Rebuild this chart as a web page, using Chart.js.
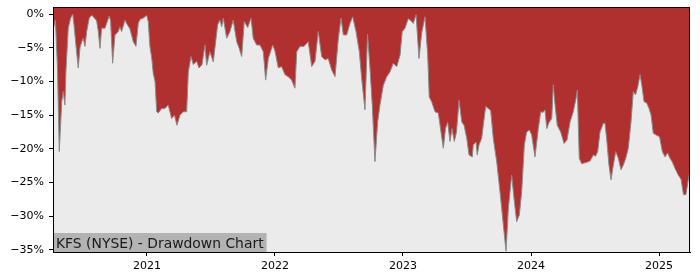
<!DOCTYPE html>
<html>
<head>
<meta charset="utf-8">
<script src="https://cdn.jsdelivr.net/npm/chart.js@4/dist/chart.umd.min.js"></script>
<style>
  html, body { margin: 0; padding: 0; background: #ffffff; }
  #wrap { width: 700px; height: 280px; position: relative; }
</style>
</head>
<body>
<div id="wrap"><canvas id="c" width="700" height="280"></canvas></div>
<script>
// Dates as fractional years
const dates = [
  2020.270, 2020.285, 2020.301, 2020.315, 2020.334, 2020.346, 2020.359, 2020.367, 2020.385, 2020.404,
  2020.420, 2020.430, 2020.445, 2020.463, 2020.477, 2020.490, 2020.502, 2020.516, 2020.529, 2020.549,
  2020.568, 2020.586, 2020.607, 2020.620, 2020.633, 2020.646, 2020.672, 2020.685, 2020.705, 2020.716,
  2020.732, 2020.750, 2020.776, 2020.789, 2020.802, 2020.828, 2020.841, 2020.867, 2020.893, 2020.914,
  2020.932, 2020.945, 2020.971, 2020.998, 2021.010, 2021.023, 2021.037, 2021.049, 2021.063, 2021.076,
  2021.088, 2021.115, 2021.141, 2021.166, 2021.193, 2021.215, 2021.234, 2021.258, 2021.284, 2021.310,
  2021.323, 2021.344, 2021.362, 2021.388, 2021.406, 2021.430, 2021.453, 2021.466, 2021.492, 2021.518,
  2021.531, 2021.552, 2021.570, 2021.584, 2021.596, 2021.623, 2021.648, 2021.674, 2021.701, 2021.719,
  2021.740, 2021.760, 2021.787, 2021.813, 2021.830, 2021.857, 2021.883, 2021.909, 2021.927, 2021.948,
  2021.982, 2022.000, 2022.026, 2022.052, 2022.078, 2022.104, 2022.130, 2022.156, 2022.170, 2022.195,
  2022.227, 2022.260, 2022.287, 2022.313, 2022.338, 2022.365, 2022.391, 2022.416, 2022.443, 2022.469,
  2022.495, 2022.516, 2022.534, 2022.560, 2022.586, 2022.607, 2022.633, 2022.659, 2022.677, 2022.703,
  2022.723, 2022.742, 2022.760, 2022.781, 2022.802, 2022.820, 2022.846, 2022.873, 2022.898, 2022.924,
  2022.951, 2022.977, 2022.994, 2023.016, 2023.041, 2023.063, 2023.080, 2023.102, 2023.125, 2023.146,
  2023.172, 2023.193, 2023.205, 2023.224, 2023.250, 2023.276, 2023.297, 2023.315, 2023.332, 2023.349,
  2023.367, 2023.383, 2023.401, 2023.418, 2023.438, 2023.459, 2023.477, 2023.498, 2023.516, 2023.541,
  2023.549, 2023.570, 2023.580, 2023.594, 2023.615, 2023.627, 2023.646, 2023.666, 2023.685, 2023.705,
  2023.732, 2023.758, 2023.784, 2023.805, 2023.823, 2023.849, 2023.867, 2023.888, 2023.909, 2023.927,
  2023.948, 2023.966, 2023.987, 2024.005, 2024.031, 2024.057, 2024.076, 2024.094, 2024.109, 2024.123,
  2024.143, 2024.162, 2024.174, 2024.188, 2024.205, 2024.232, 2024.258, 2024.281, 2024.305, 2024.330,
  2024.352, 2024.362, 2024.377, 2024.396, 2024.435, 2024.461, 2024.487, 2024.504, 2024.521, 2024.539,
  2024.565, 2024.578, 2024.591, 2024.609, 2024.625, 2024.643, 2024.662, 2024.682, 2024.703, 2024.721,
  2024.740, 2024.760, 2024.781, 2024.799, 2024.816, 2024.834, 2024.852, 2024.865, 2024.883, 2024.904,
  2024.922, 2024.938, 2024.955, 2024.982, 2025.004, 2025.026, 2025.047, 2025.066, 2025.086, 2025.105,
  2025.125, 2025.151, 2025.172, 2025.191, 2025.210, 2025.226, 2025.240
];
// Drawdown in percent
const drawdown = [
  -2.1, -0.9, -8.0, -20.4, -13.0, -11.5, -13.5, -8.5, -2.1, -0.6,
  0.0, -1.6, -4.6, -8.0, -5.0, -4.1, -3.6, -4.8, -2.6, -0.6,
  -0.2, -0.5, -1.0, -2.6, -5.1, -2.1, -2.1, -1.4, -0.3, -1.0,
  -7.3, -3.1, -2.6, -1.9, -2.6, -0.9, -1.4, -2.2, -4.1, -4.8,
  -1.4, -0.8, -0.6, -0.2, -1.1, -4.8, -6.5, -8.8, -10.0, -14.5,
  -14.7, -14.0, -14.0, -13.5, -15.5, -15.0, -16.5, -15.0, -14.5, -14.5,
  -8.6, -6.3, -7.5, -7.0, -8.0, -7.5, -4.6, -7.6, -5.6, -7.1,
  -5.0, -1.6, -0.9, -1.9, -0.6, -3.6, -2.6, -0.9, -4.1, -5.0,
  -6.3, -1.1, -2.0, -0.6, -3.6, -4.6, -4.6, -5.6, -9.8, -6.6,
  -4.6, -5.5, -8.0, -7.8, -9.0, -9.3, -9.8, -11.0, -5.6, -4.8,
  -4.8, -4.1, -7.8, -7.0, -2.6, -6.3, -6.8, -6.6, -8.3, -9.3,
  -3.6, -0.6, -3.1, -3.1, -1.4, -0.4, -2.6, -5.6, -9.5, -14.2,
  -3.0, -8.0, -13.5, -21.9, -16.0, -13.5, -10.6, -9.3, -8.6, -7.3,
  -7.8, -6.1, -2.6, -2.1, -0.7, -1.0, -1.4, -0.1, -6.6, -2.8,
  -0.4, -6.1, -12.3, -13.0, -14.5, -14.7, -17.5, -19.9, -17.0, -16.0,
  -18.9, -17.0, -18.9, -17.5, -12.8, -16.0, -16.5, -18.4, -20.9, -21.2,
  -19.4, -19.0, -20.9, -19.4, -18.4, -16.5, -13.7, -14.0, -14.3, -18.4,
  -21.9, -26.4, -31.3, -35.2, -28.8, -23.9, -27.3, -30.8, -29.8, -26.4,
  -19.4, -17.5, -17.2, -17.9, -21.2, -17.0, -14.5, -14.6, -14.2, -17.0,
  -16.0, -15.5, -10.5, -13.5, -16.5, -17.5, -19.2, -18.7, -16.0, -14.5,
  -12.5, -11.3, -21.4, -22.2, -22.0, -21.8, -20.9, -21.1, -20.4, -17.5,
  -16.2, -16.2, -18.5, -22.4, -24.6, -22.4, -20.4, -21.4, -23.1, -22.4,
  -21.4, -19.9, -16.0, -11.5, -12.0, -10.8, -9.0, -10.5, -13.0, -13.2,
  -14.0, -15.0, -17.7, -18.0, -18.2, -20.4, -21.2, -20.6, -21.4, -22.0,
  -22.9, -23.9, -24.5, -26.8, -26.8, -24.9, -23.4
];
const yTicks = [0, -5, -10, -15, -20, -25, -30, -35];
const yTickLabels = ['0%', '\u22125%', '\u221210%', '\u221215%', '\u221220%', '\u221225%', '\u221230%', '\u221235%'];
const xTicks = [2021, 2022, 2023, 2024, 2025];
const xTickLabels = ['2021', '2022', '2023', '2024', '2025'];
const titleText = 'KFS (NYSE) - Drawdown Chart';

const points = dates.map((d, i) => ({ x: d, y: drawdown[i] }));

const frame = {
  id: 'frame',
  beforeDatasetsDraw(chart) {
    const { ctx, chartArea: a } = chart;
    ctx.save();
    ctx.fillStyle = '#ebebeb';
    ctx.fillRect(a.left, a.top, a.right - a.left, a.bottom - a.top);
    ctx.restore();
  },
  afterDraw(chart) {
    const { ctx, chartArea: a } = chart;
    ctx.save();
    // title box
    ctx.font = '13.9px "DejaVu Sans"';
    const w = ctx.measureText(titleText).width;
    ctx.fillStyle = '#b3b3b3';
    ctx.fillRect(a.left, a.bottom - 19, w + 6, 19);
    ctx.fillStyle = '#1a1a1a';
    ctx.textBaseline = 'alphabetic';
    ctx.fillText(titleText, a.left + 3, a.bottom - 4.5);
    // frame
    ctx.strokeStyle = '#000';
    ctx.lineWidth = 1;
    ctx.strokeRect(Math.round(a.left) + 0.5, Math.round(a.top) + 0.5,
                   Math.round(a.right - a.left) - 1, Math.round(a.bottom - a.top));
    ctx.restore();
  }
};

new Chart(document.getElementById('c'), {
  type: 'line',
  data: {
    datasets: [{
      data: points,
      borderColor: '#8a8a8a',
      borderWidth: 1,
      backgroundColor: '#b03030',
      fill: 'end',
      pointRadius: 0,
      tension: 0
    }]
  },
  options: {
    responsive: false,
    animation: false,
    events: [],
    layout: { padding: { top: 7, right: 10, left: 0, bottom: 0 } },
    plugins: { legend: { display: false }, tooltip: { enabled: false }, title: { display: false } },
    scales: {
      x: {
        type: 'linear',
        min: 2020.266,
        max: 2025.242,
        afterBuildTicks(s) { s.ticks = xTicks.map(v => ({ value: v })); },
        afterFit(s) { s.height = 28; s.paddingLeft = 0; s.paddingRight = 0; },
        ticks: {
          callback(v) { const i = xTicks.indexOf(v); return i >= 0 ? xTickLabels[i] : ''; },
          color: '#000',
          font: { family: 'DejaVu Sans', size: 11 },
          padding: 4,
          maxRotation: 0,
          autoSkip: false
        },
        grid: { drawOnChartArea: false, drawTicks: true, tickLength: 4, color: '#000' },
        border: { display: true, color: '#000', width: 1 }
      },
      y: {
        type: 'linear',
        min: -35.3,
        max: 1.04,
        afterBuildTicks(s) { s.ticks = yTicks.map(v => ({ value: v })); },
        afterFit(s) { s.width = 53; s.paddingTop = 0; s.paddingBottom = 0; },
        ticks: {
          callback(v) { const i = yTicks.indexOf(v); return i >= 0 ? yTickLabels[i] : ''; },
          color: '#000',
          font: { family: 'DejaVu Sans', size: 11 },
          padding: 5,
          autoSkip: false
        },
        grid: { drawOnChartArea: false, drawTicks: true, tickLength: 4, color: '#000' },
        border: { display: true, color: '#000', width: 1 }
      }
    }
  },
  plugins: [frame]
});
</script>
</body>
</html>
